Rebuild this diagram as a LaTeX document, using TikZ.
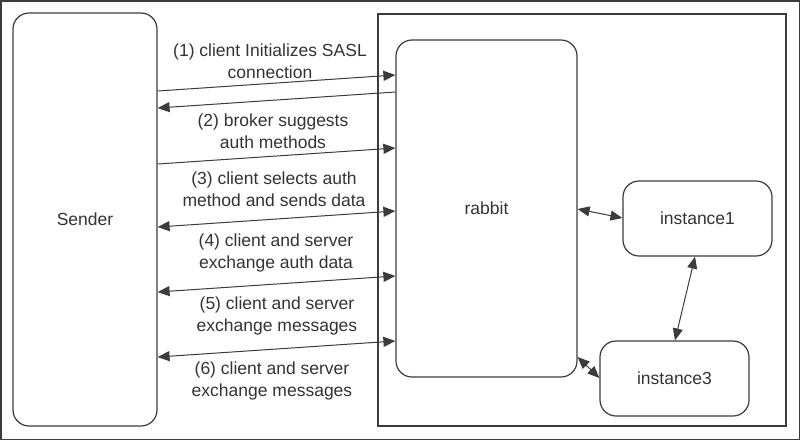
\documentclass[tikz,border=0pt]{standalone}
\usepackage{fontspec}
\setmainfont{Liberation Sans}
\usepackage{tikz}
\usetikzlibrary{arrows.meta}
\definecolor{ink}{HTML}{333333}
\definecolor{edge}{HTML}{3C3C3C}

\begin{document}
\begin{tikzpicture}[x=1pt,y=-1pt,
        box/.style = {draw=edge, line width=1.2pt, rounded corners=16pt, inner sep=0pt},
        lbl/.style = {align=center, text=ink, inner sep=0pt},
        con/.style = {draw=edge, line width=1pt, arrows={-Triangle[length=12pt,width=10pt]}},
        dcon/.style = {con, arrows={Triangle[length=12pt,width=10pt]-Triangle[length=12pt,width=10pt]}},
        font=\fontsize{17.5}{22}\selectfont, text=ink]
        \useasboundingbox (0,0) rectangle (800,440);
        \draw[edge, line width=1.5pt] (0.75,0.75) rectangle (799.25,439.25);
        \draw[edge, line width=1.2pt] (378,14) rectangle (786,426);
        \node[box, minimum width=144pt, minimum height=413pt] (sender) at (85,219.5) {Sender};
        \node[box, minimum width=181pt, minimum height=337pt] (rabbit) at (486.5,208.5) {rabbit};
        \node[box, minimum width=149pt, minimum height=75pt] (inst1) at (697.5,218.5) {instance1};
        \node[box, minimum width=149pt, minimum height=75pt] (inst3) at (674.5,378.5) {instance3};
        \draw[con] (sender.east |- 0,91) -- (rabbit.west |- 0,75);
        \draw[con] (rabbit.west |- 0,92) -- (sender.east |- 0,108);
        \draw[con] (sender.east |- 0,164) -- (rabbit.west |- 0,148);
        \foreach \a/\b in {227/211, 292/276, 357/341}
            \draw[dcon] (sender.east |- 0,\a) -- (rabbit.west |- 0,\b);
        \draw[dcon] (rabbit.east |- 0,209) -- (inst1.west |- 0,218);
        \draw[dcon] (rabbit.east |- 0,357) -- (inst3.west |- 0,378);
        \draw[dcon] (inst1.south -| 695,0) -- (inst3.north -| 675,0);
        \node[lbl] (l1) at (270,61) {(1) client Initializes SASL\\connection};
        \node[lbl] (l2) at (273,131) {(2) broker suggests\\auth methods};
        \node[lbl] (l3) at (274,189) {(3) client selects auth\\method and sends data};
        \node[lbl] (l4) at (276,252.5) {(4) client and server\\exchange auth data};
        \node[lbl] (l5) at (277,316) {(5) client and server\\exchange messages};
        \node[lbl] (l6) at (272,380.5) {(6) client and server\\exchange messages};
\end{tikzpicture}
\end{document}
